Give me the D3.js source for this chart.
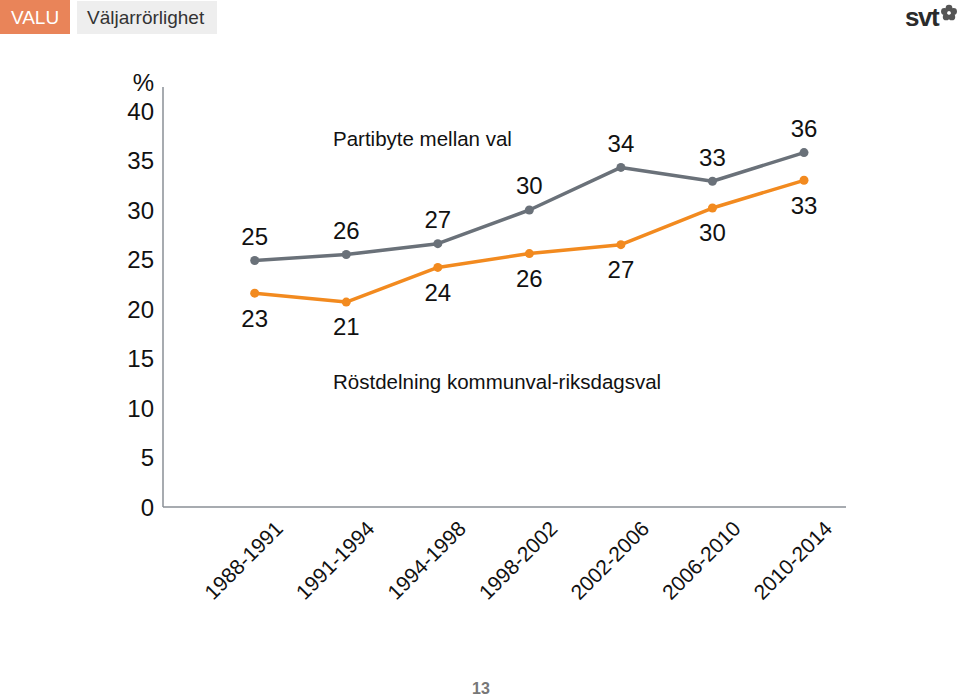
<!DOCTYPE html>
<html>
<head>
<meta charset="utf-8">
<script src="https://cdn.jsdelivr.net/npm/d3@7"></script>
<style>
  html, body { margin: 0; padding: 0; background: #fff; }
  svg { display: block; font-family: "Liberation Sans", Arial, Helvetica, sans-serif; }
</style>
</head>
<body>
<svg id="chart" width="960" height="697"></svg>
<script>
// ---- data ----
const periods = ["1988-1991", "1991-1994", "1994-1998", "1998-2002", "2002-2006", "2006-2010", "2010-2014"];
const partibyteValues = [24.9, 25.5, 26.6, 30.0, 34.3, 32.9, 35.8];
const partibyteLabels = ["25", "26", "27", "30", "34", "33", "36"];
const rostdelningValues = [21.6, 20.7, 24.2, 25.6, 26.5, 30.2, 33.0];
const rostdelningLabels = ["23", "21", "24", "26", "27", "30", "33"];
const yTicks = [0, 5, 10, 15, 20, 25, 30, 35, 40];
const seriesNames = ["Partibyte mellan val", "Röstdelning kommunval-riksdagsval"];

const svg = d3.select("#chart");

// ---- header ----
svg.append("rect").attr("x", 0).attr("y", 0).attr("width", 70).attr("height", 34).attr("fill", "#E98459");
svg.append("text").attr("x", 35).attr("y", 24).attr("text-anchor", "middle")
  .attr("fill", "#fff").attr("font-size", 19).text("VALU");
svg.append("rect").attr("x", 77).attr("y", 1).attr("width", 140).attr("height", 33).attr("fill", "#EEEEEE");
svg.append("text").attr("x", 87).attr("y", 24)
  .attr("fill", "#333").attr("font-size", 19).text("Väljarrörlighet");

// svt logo
svg.append("text").attr("x", 905).attr("y", 26).attr("fill", "#2b2b2b")
  .attr("font-size", 26).attr("font-weight", "bold").attr("letter-spacing", -1.5).text("svt");
const flower = svg.append("g").attr("transform", "translate(949,13)");
d3.range(5).forEach(i => {
  const a = (i / 5) * 2 * Math.PI - Math.PI / 2;
  flower.append("circle").attr("cx", Math.cos(a) * 4.8).attr("cy", Math.sin(a) * 4.8)
    .attr("r", 3.4).attr("fill", "#555");
});
flower.append("circle").attr("r", 1.8).attr("fill", "#fff");

// ---- scales ----
const x = d3.scalePoint().domain(periods).range([254.7, 804]);
const y = d3.scaleLinear().domain([0, 40]).range([507, 111]);

// ---- axes ----
const axisColor = "#8a8f96";
svg.append("line").attr("x1", 163).attr("x2", 163).attr("y1", 87).attr("y2", y(0))
  .attr("stroke", axisColor).attr("stroke-width", 1.5);
svg.append("line").attr("x1", 163).attr("x2", 846).attr("y1", y(0)).attr("y2", y(0))
  .attr("stroke", axisColor).attr("stroke-width", 1.5);

const yAxis = d3.axisLeft(y).tickValues(yTicks).tickSize(0).tickPadding(0);
const yg = svg.append("g").attr("transform", "translate(154,0)").call(yAxis);
yg.select(".domain").remove();
yg.selectAll("text").attr("font-size", 24).attr("fill", "#111")
  .attr("font-family", "Liberation Sans, Arial, sans-serif").attr("dy", "0.35em");

svg.append("text").attr("x", 154).attr("y", 91).attr("text-anchor", "end")
  .attr("font-size", 24).attr("fill", "#111").text("%");

const xAxis = d3.axisBottom(x).tickSize(0).tickPadding(0);
const xg = svg.append("g").attr("transform", `translate(0,${y(0)})`).call(xAxis);
xg.select(".domain").remove();
xg.selectAll("text")
  .attr("font-size", 21).attr("fill", "#111")
  .attr("font-family", "Liberation Sans, Arial, sans-serif")
  .attr("text-anchor", "end")
  .attr("dy", null).attr("y", 0)
  .attr("transform", "translate(29,23) rotate(-45)");

// ---- lines ----
const line = d3.line().x((d, i) => x(periods[i])).y(d => y(d));

function drawSeries(values, labels, color, labelDy) {
  svg.append("path").datum(values).attr("d", line)
    .attr("fill", "none").attr("stroke", color).attr("stroke-width", 3.5)
    .attr("stroke-linejoin", "round");
  svg.selectAll(null).data(values).enter().append("circle")
    .attr("cx", (d, i) => x(periods[i])).attr("cy", d => y(d))
    .attr("r", 4.5).attr("fill", color);
  svg.selectAll(null).data(values).enter().append("text")
    .attr("x", (d, i) => x(periods[i])).attr("y", d => y(d) + labelDy)
    .attr("dy", "0.35em").attr("text-anchor", "middle")
    .attr("font-size", 24).attr("fill", "#111")
    .text((d, i) => labels[i]);
}

drawSeries(partibyteValues, partibyteLabels, "#6A7179", -24);
drawSeries(rostdelningValues, rostdelningLabels, "#F28A1F", 25);

// ---- series titles ----
svg.append("text").attr("x", 333).attr("y", 139).attr("dy", "0.35em")
  .attr("font-size", 20.5).attr("fill", "#111").text(seriesNames[0]);
svg.append("text").attr("x", 333).attr("y", 382).attr("dy", "0.35em")
  .attr("font-size", 20.5).attr("fill", "#111").text(seriesNames[1]);

// ---- page number ----
svg.append("text").attr("x", 481).attr("y", 694).attr("text-anchor", "middle")
  .attr("font-size", 16).attr("font-weight", "bold").attr("fill", "#777").text("13");
</script>
</body>
</html>
